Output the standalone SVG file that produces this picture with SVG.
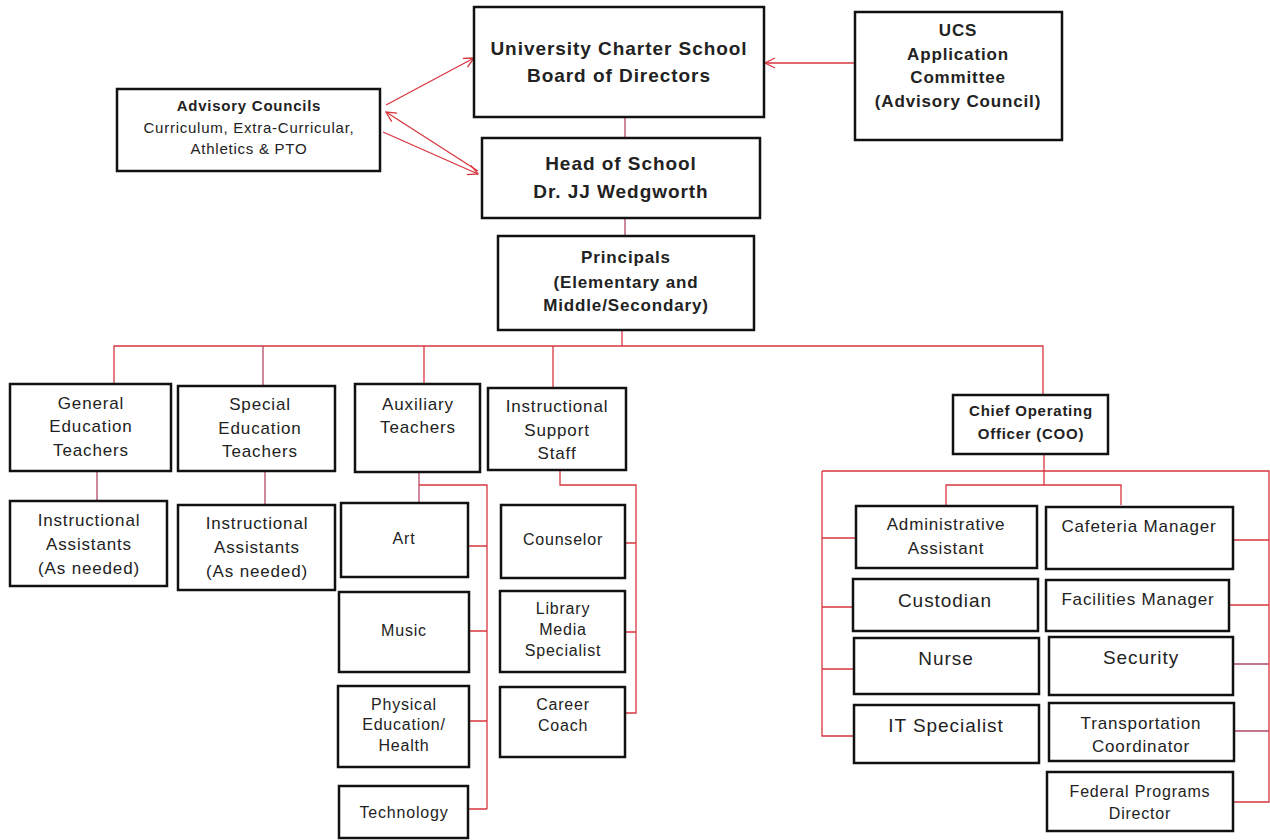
<svg xmlns="http://www.w3.org/2000/svg" width="1270" height="840" viewBox="0 0 1270 840">
<style>
.b{fill:#fff;stroke:#111;stroke-width:2.5}
.t{font-family:"Liberation Sans",Arial,sans-serif;fill:#222;text-anchor:middle;letter-spacing:0.05em}
.bd{font-weight:bold}
.c{fill:none;stroke:#d8363f;stroke-width:1.3}
.p{fill:none;stroke:#b44a66;stroke-width:1.3}
</style>
<defs>
<marker id="ar" viewBox="0 0 12 12" refX="11" refY="6" markerWidth="12" markerHeight="12" markerUnits="userSpaceOnUse" orient="auto">
<path d="M1,1 L11,6 L1,11" fill="none" stroke="#d8363f" stroke-width="1.3"/>
</marker>
</defs>
<rect width="1270" height="840" fill="#fff"/>
<g id="connectors">
<path class="c" d="M386,105 L474,58" marker-end="url(#ar)"/>
<path class="c" d="M478,171 L386,112" marker-end="url(#ar)"/>
<path class="c" d="M383,132 L478,174" marker-end="url(#ar)"/>
<path class="c" d="M855,63 L765,63" marker-end="url(#ar)"/>
<path class="p" d="M625,117 V138"/>
<path class="p" d="M625,218 V236"/>
<path class="c" d="M622,330 V346"/>
<path class="c" d="M114,384 V346 H1043 V395"/>
<path class="p" d="M263,346 V386"/>
<path class="c" d="M424,346 V384"/>
<path class="c" d="M553,346 V388"/>
<path class="p" d="M97,471 V501"/>
<path class="p" d="M265,471 V505"/>
<path class="p" d="M419,472 V503"/>
<path class="c" d="M419,485 H487 V809"/>
<path class="c" d="M468,546 H487 M469,631 H487 M469,721 H487 M468,809 H487"/>
<path class="c" d="M560,470 V485 H636 V713 H625 M625,543 H636 M625,632 H636"/>
<path class="c" d="M1044,454 V485"/>
<path class="c" d="M946,505 V485 H1121 V505"/>
<path class="c" d="M856,538 H822 M822,471 V736 H854 M853,607 H822 M854,669 H822"/>
<path class="c" d="M822,471 H1269 V802 H1233 M1233,540 H1269 M1229,605 H1269"/>
<path class="p" d="M1233,664 H1269 M1234,731 H1269"/>
</g>
<g id="board"><rect class="b" x="474" y="7" width="290" height="110"/>
<text class="t bd" x="619" y="55" font-size="19">University Charter School</text>
<text class="t bd" x="619" y="82" font-size="19">Board of Directors</text></g>
<g id="ucs"><rect class="b" x="855" y="12" width="207" height="128"/>
<text class="t bd" x="958" y="36" font-size="17">UCS</text>
<text class="t bd" x="958" y="60" font-size="17">Application</text>
<text class="t bd" x="958" y="83" font-size="17">Committee</text>
<text class="t bd" x="958" y="107" font-size="17">(Advisory Council)</text></g>
<g id="advisory"><rect class="b" x="117" y="89" width="263" height="82"/>
<text class="t bd" x="249" y="111" font-size="15">Advisory Councils</text>
<text class="t" x="249" y="133" font-size="15">Curriculum, Extra-Curricular,</text>
<text class="t" x="249" y="154" font-size="15">Athletics &amp; PTO</text></g>
<g id="head"><rect class="b" x="482" y="138" width="278" height="80"/>
<text class="t bd" x="621" y="170" font-size="19">Head of School</text>
<text class="t bd" x="621" y="198" font-size="19">Dr. JJ Wedgworth</text></g>
<g id="principals"><rect class="b" x="498" y="236" width="256" height="94"/>
<text class="t bd" x="626" y="263" font-size="17">Principals</text>
<text class="t bd" x="626" y="288" font-size="17">(Elementary and</text>
<text class="t bd" x="626" y="311" font-size="17">Middle/Secondary)</text></g>
<g id="gen"><rect class="b" x="10" y="384" width="161" height="87"/>
<text class="t" x="91" y="409" font-size="17">General</text>
<text class="t" x="91" y="432" font-size="17">Education</text>
<text class="t" x="91" y="456" font-size="17">Teachers</text></g>
<g id="spec"><rect class="b" x="178" y="386" width="157" height="85"/>
<text class="t" x="260" y="410" font-size="17">Special</text>
<text class="t" x="260" y="434" font-size="17">Education</text>
<text class="t" x="260" y="457" font-size="17">Teachers</text></g>
<g id="aux"><rect class="b" x="355" y="384" width="125" height="88"/>
<text class="t" x="418" y="410" font-size="17">Auxiliary</text>
<text class="t" x="418" y="433" font-size="17">Teachers</text></g>
<g id="iss"><rect class="b" x="488" y="388" width="138" height="82"/>
<text class="t" x="557" y="412" font-size="17">Instructional</text>
<text class="t" x="557" y="436" font-size="17">Support</text>
<text class="t" x="557" y="459" font-size="17">Staff</text></g>
<g id="coo"><rect class="b" x="953" y="395" width="155" height="59"/>
<text class="t bd" x="1031" y="416" font-size="15">Chief Operating</text>
<text class="t bd" x="1031" y="439" font-size="15">Officer (COO)</text></g>
<g id="ia1"><rect class="b" x="10" y="501" width="157" height="85"/>
<text class="t" x="89" y="526" font-size="17">Instructional</text>
<text class="t" x="89" y="550" font-size="17">Assistants</text>
<text class="t" x="89" y="574" font-size="17">(As needed)</text></g>
<g id="ia2"><rect class="b" x="178" y="505" width="157" height="85"/>
<text class="t" x="257" y="529" font-size="17">Instructional</text>
<text class="t" x="257" y="553" font-size="17">Assistants</text>
<text class="t" x="257" y="577" font-size="17">(As needed)</text></g>
<g id="art"><rect class="b" x="341" y="503" width="127" height="74"/>
<text class="t" x="404" y="544" font-size="16">Art</text></g>
<g id="music"><rect class="b" x="339" y="592" width="130" height="80"/>
<text class="t" x="404" y="636" font-size="16">Music</text></g>
<g id="pe"><rect class="b" x="338" y="686" width="131" height="81"/>
<text class="t" x="404" y="710" font-size="16">Physical</text>
<text class="t" x="404" y="730" font-size="16">Education/</text>
<text class="t" x="404" y="751" font-size="16">Health</text></g>
<g id="tech"><rect class="b" x="339" y="786" width="129" height="52"/>
<text class="t" x="404" y="818" font-size="16">Technology</text></g>
<g id="counselor"><rect class="b" x="501" y="505" width="124" height="73"/>
<text class="t" x="563" y="545" font-size="16">Counselor</text></g>
<g id="library"><rect class="b" x="500" y="591" width="125" height="81"/>
<text class="t" x="563" y="614" font-size="16">Library</text>
<text class="t" x="563" y="635" font-size="16">Media</text>
<text class="t" x="563" y="656" font-size="16">Specialist</text></g>
<g id="career"><rect class="b" x="500" y="687" width="125" height="70"/>
<text class="t" x="563" y="710" font-size="16">Career</text>
<text class="t" x="563" y="731" font-size="16">Coach</text></g>
<g id="admin"><rect class="b" x="856" y="506" width="181" height="62"/>
<text class="t" x="946" y="530" font-size="17">Administrative</text>
<text class="t" x="946" y="554" font-size="17">Assistant</text></g>
<g id="cafeteria"><rect class="b" x="1046" y="507" width="187" height="62"/>
<text class="t" x="1139" y="532" font-size="17">Cafeteria Manager</text></g>
<g id="custodian"><rect class="b" x="853" y="579" width="185" height="52"/>
<text class="t" x="945" y="607" font-size="19">Custodian</text></g>
<g id="facilities"><rect class="b" x="1046" y="580" width="183" height="51"/>
<text class="t" x="1138" y="605" font-size="17">Facilities Manager</text></g>
<g id="nurse"><rect class="b" x="854" y="638" width="185" height="56"/>
<text class="t" x="946" y="665" font-size="19">Nurse</text></g>
<g id="security"><rect class="b" x="1049" y="637" width="184" height="58"/>
<text class="t" x="1141" y="664" font-size="19">Security</text></g>
<g id="it"><rect class="b" x="854" y="705" width="185" height="58"/>
<text class="t" x="946" y="732" font-size="19">IT Specialist</text></g>
<g id="transport"><rect class="b" x="1049" y="703" width="185" height="58"/>
<text class="t" x="1141" y="729" font-size="17">Transportation</text>
<text class="t" x="1141" y="752" font-size="17">Coordinator</text></g>
<g id="federal"><rect class="b" x="1047" y="772" width="186" height="59"/>
<text class="t" x="1140" y="797" font-size="16">Federal Programs</text>
<text class="t" x="1140" y="819" font-size="16">Director</text></g>
</svg>
